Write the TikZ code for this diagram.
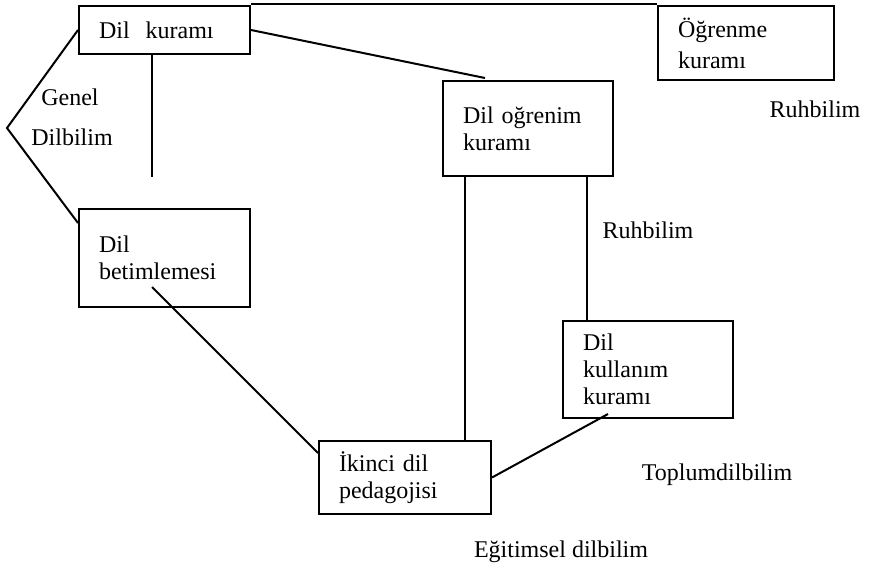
\documentclass[tikz,border=0pt]{standalone}
\usepackage{fontspec}
\setmainfont{Liberation Serif}
\usetikzlibrary{calc,positioning}
\newcommand{\yazi}{\fontsize{24}{27}\selectfont}

\begin{document}
\begin{tikzpicture}[x=1pt,y=-1pt,
        kutu/.style={draw, line width=2pt, rectangle, anchor=north west,
            inner xsep=20pt, inner ysep=0pt, align=left, font=\yazi},
        etiket/.style={font=\yazi, inner sep=0pt},
        cizgi/.style={line width=2pt}]
        \useasboundingbox (0,0) rectangle (882,576);

        % kutular
        \node[kutu, text width=131pt, minimum height=48pt] (kuram) at (78,5) {Dil~~kuramı};
        \node[kutu, text width=136pt, minimum height=74pt] (ogrenme) at (657,5) {Öğrenme\\[4pt]kuramı};
        \node[kutu, text width=130pt, minimum height=95pt] (dogrenim) at (442,80) {Dil oğrenim\\kuramı};
        \node[kutu, text width=131pt, minimum height=98pt] (betim) at (78,208) {Dil\\betimlemesi\\[14pt]};
        \node[kutu, text width=130pt, minimum height=97pt] (kullanim) at (562,320) {Dil\\kullanım\\kuramı};
        \node[kutu, text width=132pt, minimum height=73pt] (pedagoji) at (318,440) {İkinci dil\\pedagojisi};

        % serbest uclar
        \coordinate (tepe) at (7,128);
        \coordinate (kuramalt) at (152,177);
        \coordinate (betimic) at (152,287);
        \coordinate (solayak) at ($(dogrenim.south west)+(23,0)$);
        \coordinate (sagayak) at ($(dogrenim.south west)+(145,0)$);

        % baglantilar
        \draw[cizgi] ([yshift=1pt]kuram.north east) -- ([yshift=1pt]ogrenme.north west);
        \draw[cizgi] (kuram.west) -- (tepe) -- ($(betim.north west)+(0,15)$);
        \draw[cizgi] (kuram.south -| kuramalt) -- (kuramalt);
        \draw[cizgi] (kuram.east) -- ($(dogrenim.north west)+(43,-2)$);
        \draw[cizgi] (betimic) -- ($(pedagoji.north west)+(0,13)$);
        \draw[cizgi] (solayak) -- (solayak |- pedagoji.north);
        \draw[cizgi] (sagayak) -- (sagayak |- kullanim.north);
        \draw[cizgi] (pedagoji.east) -- ($(kullanim.south west)+(46,-5)$);

        % alan adlari
        \node[etiket] (genel) at (70,97) {Genel};
        \node[etiket] (dilbilim) at (72,137) {Dilbilim};
        \node[etiket] (ruhsag) at (815,109) {Ruhbilim};
        \node[etiket] (ruhorta) at (648,230) {Ruhbilim};
        \node[etiket] (toplum) at (717,475) {Toplumdilbilim};
        \node[etiket] (egitim) at (561,552) {Eğitimsel dilbilim};
    \end{tikzpicture}
\end{document}
